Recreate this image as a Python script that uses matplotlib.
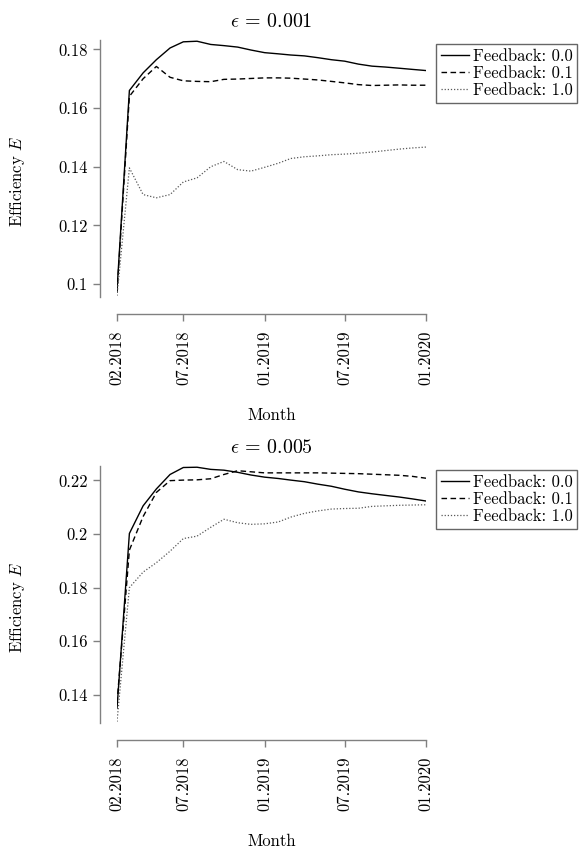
import numpy as np
import pandas as pd
import matplotlib
matplotlib.use("Agg")
import matplotlib.pyplot as plt
from matplotlib.ticker import FuncFormatter

# monthly data, 02.2018 .. 01.2020
months = pd.date_range("2018-02-01", periods=24, freq="MS")
xtick_labels = ["02.2018", "07.2018", "01.2019", "07.2019", "01.2020"]
legend_labels = ["Feedback: 0.0", "Feedback: 0.1", "Feedback: 1.0"]
titles = [r"$\epsilon \,=\, 0.001$", r"$\epsilon \,=\, 0.005$"]

# eps = 0.001
e001_fb00 = [0.098, 0.166, 0.172, 0.1765, 0.1805, 0.1826, 0.1828, 0.1817, 0.1813, 0.1808,
             0.1798, 0.1789, 0.1785, 0.1781, 0.1778, 0.1772, 0.1765, 0.1760, 0.1750, 0.1743,
             0.1740, 0.1736, 0.1732, 0.1728]
e001_fb01 = [0.097, 0.164, 0.170, 0.1742, 0.1705, 0.1693, 0.1691, 0.1690, 0.1698, 0.1699,
             0.1701, 0.1703, 0.1703, 0.1702, 0.1699, 0.1696, 0.1691, 0.1686, 0.1680, 0.1677,
             0.1678, 0.1679, 0.1678, 0.1678]
e001_fb10 = [0.096, 0.1396, 0.1305, 0.1294, 0.1305, 0.1348, 0.1362, 0.1400, 0.1418, 0.1390,
             0.1385, 0.1398, 0.1412, 0.1428, 0.1434, 0.1437, 0.1441, 0.1443, 0.1446, 0.1450,
             0.1455, 0.1460, 0.1464, 0.1467]

# eps = 0.005
e005_fb00 = [0.135, 0.2002, 0.2105, 0.2168, 0.2222, 0.2248, 0.2249, 0.2241, 0.2238, 0.2230,
             0.2220, 0.2212, 0.2207, 0.2201, 0.2195, 0.2186, 0.2178, 0.2167, 0.2157, 0.2150,
             0.2144, 0.2138, 0.2131, 0.2123]
e005_fb01 = [0.137, 0.194, 0.2065, 0.2155, 0.2199, 0.2201, 0.2202, 0.2206, 0.2222, 0.2236,
             0.2232, 0.2228, 0.2228, 0.2228, 0.2228, 0.2228, 0.2227, 0.2226, 0.2225, 0.2223,
             0.2221, 0.2219, 0.2215, 0.2208]
e005_fb10 = [0.130, 0.180, 0.1858, 0.1893, 0.1936, 0.1983, 0.1992, 0.2025, 0.2055, 0.2042,
             0.2036, 0.2038, 0.2045, 0.2063, 0.2077, 0.2086, 0.2093, 0.2095, 0.2096, 0.2103,
             0.2105, 0.2107, 0.2108, 0.2109]

plt.rcParams["font.family"] = "serif"
plt.rcParams["font.serif"] = ["cmr10"]
plt.rcParams["mathtext.fontset"] = "cm"
plt.rcParams["axes.formatter.use_mathtext"] = True
plt.rcParams["font.size"] = 12

styles = [
    dict(color="black", lw=1.0, ls="-"),
    dict(color="black", lw=1.0, ls=(0, (4, 2.5))),
    dict(color="0.35", lw=0.9, ls=(0, (1, 1.5))),
]

fig = plt.figure(figsize=(5.81, 8.52), dpi=100)
ax_top = fig.add_axes([0.2014, 0.6514, 0.5318, 0.3017])
ax_bot = fig.add_axes([0.2014, 0.1514, 0.5318, 0.3017])

tick_dates = [pd.Timestamp("2018-02-01"), pd.Timestamp("2018-07-01"), pd.Timestamp("2019-01-01"),
              pd.Timestamp("2019-07-01"), pd.Timestamp("2020-01-01")]

panels = [
    (ax_top, [e001_fb00, e001_fb01, e001_fb10], titles[0], [0.1, 0.12, 0.14, 0.16, 0.18]),
    (ax_bot, [e005_fb00, e005_fb01, e005_fb10], titles[1], [0.14, 0.16, 0.18, 0.2, 0.22]),
]

for ax, series, title, yticks in panels:
    for vals, lab, st in zip(series, legend_labels, styles):
        ax.plot(months, vals, label=lab, **st)
    ax.margins(x=0, y=0.005)
    ax.set_xticks(tick_dates)
    ax.set_xticklabels(xtick_labels)
    ax.set_yticks(yticks)
    ax.yaxis.set_major_formatter(FuncFormatter(lambda v, _: f"{v:g}"))
    for side in ["top", "right"]:
        ax.spines[side].set_visible(False)
    for side in ["left", "bottom"]:
        ax.spines[side].set_position(("outward", 12))
        ax.spines[side].set_color("0.5")
        ax.spines[side].set_linewidth(1.0)
    ax.tick_params(axis="both", colors="0.5", labelcolor="black", length=5, width=1.0)
    ax.tick_params(axis="x", pad=7, labelrotation=90)
    ax.tick_params(axis="y", pad=4)
    ax.set_title(title, pad=9)
    ax.set_xlabel("Month", labelpad=16)
    ax.set_ylabel(r"Efficiency $E$")
    ax.yaxis.set_label_coords(-0.29, 0.45)
    leg = ax.legend(loc="upper left", bbox_to_anchor=(1.032, 0.985), borderaxespad=0,
                    fancybox=False, framealpha=1, edgecolor="0.4", handlelength=1.7,
                    handletextpad=0.2, labelspacing=0.1, borderpad=0.3)
    leg.get_frame().set_linewidth(1.0)

fig.savefig("out.png", dpi=100)
